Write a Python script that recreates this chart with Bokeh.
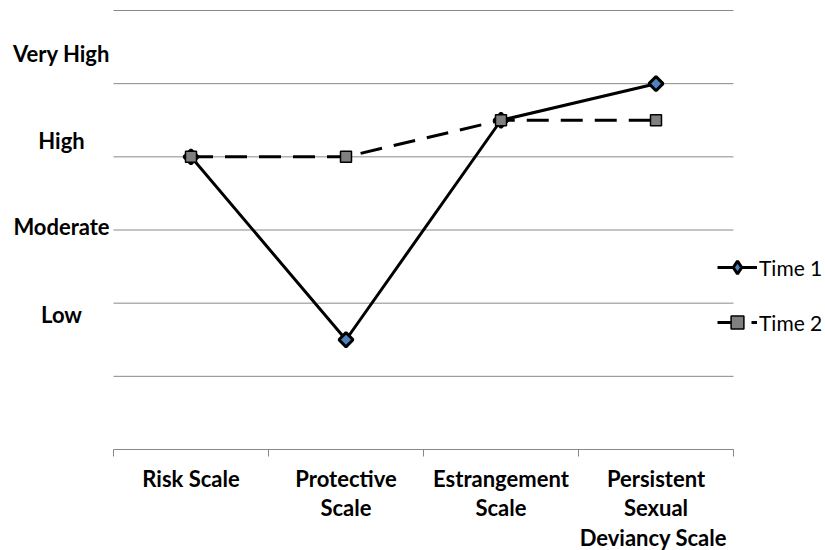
import math
from bokeh.plotting import figure
from bokeh.models import Range1d, FixedTicker, Label, Legend, LegendItem, LinearAxis
from bokeh.embed import file_html
from bokeh.resources import INLINE

# ---- data ----
categories = ["Risk Scale", "Protective\nScale", "Estrangement\nScale",
              "Persistent\nSexual\nDeviancy  Scale"]
time1 = [4, 1.5, 4.5, 5]
time2 = [4, 4, 4.5, 4.5]
level_labels = ["Very High", "High", "Moderate", "Low"]
series_names = ["Time 1", "Time 2"]
grid_levels = [1, 2, 3, 4, 5, 6]

# ---- layout (pixels) ----
W, H = 825, 550
PL, PR, PT, PB = 113, 733, 10, 449      # plot-area box in canvas pixels
NCAT, YMAX = len(categories), 6
sx = (PR - PL) / NCAT
sy = (PB - PT) / YMAX
FONT = "Lato"
x = [i + 0.5 for i in range(NCAT)]

p = figure(width=W, height=H,
           x_range=Range1d(-PL / sx, NCAT + (W - PR) / sx),
           y_range=Range1d(-(H - PB) / sy, YMAX + PT / sy),
           output_backend="svg", toolbar_location=None, title=None,
           min_border=0, min_border_left=0, min_border_right=0,
           min_border_top=0, min_border_bottom=0)
p.outline_line_color = None
p.xaxis.visible = False
p.yaxis.visible = False
p.xgrid.visible = False
p.ygrid.visible = False

grid_col = "#898989"
# horizontal gridlines across the plot area
p.segment(x0=[0] * len(grid_levels), x1=[NCAT] * len(grid_levels),
          y0=grid_levels, y1=grid_levels, line_color=grid_col, line_width=1)

# category axis at y = 0
xax = LinearAxis(fixed_location=0, bounds=(0, NCAT))
xax.ticker = FixedTicker(ticks=x, minor_ticks=list(range(NCAT + 1)))
xax.major_label_overrides = {xi: c for xi, c in zip(x, categories)}
xax.axis_line_color = grid_col
xax.minor_tick_line_color = grid_col
xax.minor_tick_out = 7
xax.minor_tick_in = 0
xax.major_tick_line_color = None
xax.major_tick_out = 0
xax.major_tick_in = 0
xax.major_label_standoff = 8
xax.major_label_text_font = FONT
xax.major_label_text_font_style = "bold"
xax.major_label_text_font_size = "22px"
xax.major_label_text_color = "black"
xax.major_label_text_line_height = 1.1
p.add_layout(xax, "below")

# ---- series ----
r1l = p.line(x, time1, line_color="black", line_width=3)
r1m = p.scatter(x, time1, marker="square", angle=math.pi / 4, size=10,
                fill_color="#4F81BD", line_color="black", line_width=3)
r2l = p.line(x, time2, line_color="black", line_width=3, line_dash="22 12")
r2m = p.scatter(x, time2, marker="square", size=11, fill_color="#808080",
                line_color="black", line_width=1.5)

# legend-only marker (legend glyphs ignore marker angle); not drawn in the plot
r1leg = p.scatter(x, time1, marker="diamond", size=10, visible=False,
                  fill_color="#4F81BD", line_color="black", line_width=3)

legend = Legend(items=[LegendItem(label=series_names[0], renderers=[r1l, r1leg]),
                       LegendItem(label=series_names[1], renderers=[r2l, r2m])],
                location=(717, 212), orientation="vertical", click_policy="none",
                border_line_color=None, background_fill_alpha=0,
                padding=0, margin=0, spacing=23, glyph_width=40, glyph_height=32,
                label_height=32, label_standoff=2,
                label_text_font=FONT, label_text_font_size="21px",
                label_text_color="black")
p.add_layout(legend)

# ---- level labels (left) ----
level_pos = [5.41, 4.22, 3.05, 1.85]
for lab, yy in zip(level_labels, level_pos):
    p.add_layout(Label(x=(61 - PL) / sx, y=yy, text=lab, text_align="center",
                       text_baseline="middle", text_font=FONT,
                       text_font_style="bold", text_font_size="22px",
                       text_color="black"))

open("out.html", "w").write(file_html(p, INLINE))
